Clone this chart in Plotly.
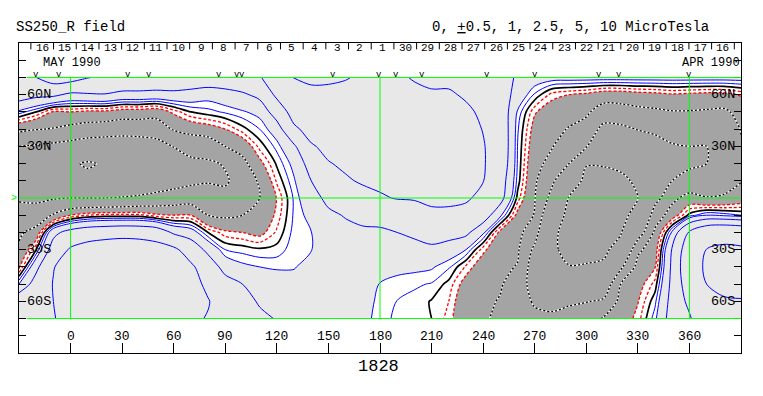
import plotly.graph_objects as go

# ---------------- data: source-surface radial field (microtesla) ----------------
LON = list(range(-30, 391, 10))          # Carrington longitude grid (deg)
LAT = list(range(-70, 71, 10))           # latitude grid (deg)

N70 = [4.5, 5.0, 6.2, 6.0, 5.1, 4.6, 4.4, 4.3, 4.2, 4.2, 4.0, 4.0, 4.1, 4.3, 4.7, 7.5, 10.2, 11.0, 11.0, 10.4, 9.0, 7.0, 5.2, 4.9, 4.8, 4.6, 4.2, 3.8, 3.2, 2.3, 1.6, 1.4, 1.4, 1.4, 1.4, 1.4, 1.4, 1.4, 1.4, 1.4, 1.4, 1.4, 1.4]
N60 = [3.5, 3.0, 2.9, 2.1, 2.3, 2.4, 2.0, 2.0, 1.9, 2.0, 1.8, 1.4, 1.7, 2.2, 3.0, 5.5, 8.0, 8.7, 8.5, 8.0, 7.6, 6.6, 5.6, 5.3, 5.1, 5.2, 4.8, 4.4, 3.6, 1.8, 0.4, -0.7, -1.0, -1.2, -1.6, -1.6, -1.4, -1.3, -1.1, -1.2, -1.3, -1.3, -0.9]
N50 = [0.8, 0.0, -1.1, -1.0, -1.2, -1.2, -1.5, -1.5, -1.7, -0.8, 0.0, 0.3, 0.6, 0.9, 1.3, 3.5, 6.0, 7.0, 7.3, 7.0, 6.8, 6.3, 5.8, 5.5, 5.4, 5.4, 5.3, 4.7, 3.9, 0.9, -0.9, -1.6, -1.9, -2.2, -3.4, -3.3, -3.0, -2.8, -2.6, -2.6, -2.7, -2.8, -2.0]
N40 = [-2.0, -2.4, -2.6, -3.0, -3.3, -3.5, -3.8, -3.8, -3.7, -2.3, -1.8, -1.5, -1.0, -0.2, 0.5, 1.6, 4.6, 5.8, 6.3, 6.3, 6.2, 6.1, 5.9, 5.6, 5.5, 5.5, 5.5, 4.95, 4.1, 0.6, -1.4, -2.0, -2.6, -3.2, -5.8, -5.6, -4.9, -4.5, -4.0, -4.0, -4.0, -4.0, -2.4]
N30 = [-5.0, -5.3, -5.6, -6.0, -6.6, -6.8, -6.8, -6.5, -6.0, -4.9, -4.0, -3.7, -2.5, -1.8, -0.3, 0.7, 2.2, 4.8, 5.5, 5.8, 5.8, 5.9, 5.9, 5.6, 5.5, 5.5, 5.5, 5.1, 4.2, 0.5, -1.7, -2.4, -3.6, -4.8, -7.8, -7.6, -6.8, -6.0, -5.2, -5.0, -5.0, -4.8, -2.7]
N20 = [-6.5, -7.2, -8.2, -9.5, -10.4, -9.6, -9.0, -8.3, -7.6, -6.8, -5.6, -5.4, -4.8, -3.0, -1.3, 0.1, 1.3, 3.3, 4.9, 5.3, 5.5, 5.7, 5.8, 5.5, 5.4, 5.4, 5.4, 5.15, 4.0, 0.45, -2.0, -3.0, -5.0, -9.8, -9.8, -9.5, -8.4, -7.2, -6.0, -5.4, -5.0, -4.6, -3.0]
N10 = [-6.5, -7.3, -8.0, -8.5, -9.0, -8.6, -8.2, -7.6, -7.0, -6.3, -5.6, -5.2, -5.3, -4.0, -2.2, -0.4, 0.9, 2.5, 3.8, 4.8, 5.2, 5.4, 5.6, 5.3, 5.3, 5.3, 5.3, 5.05, 3.5, 0.3, -2.2, -4.5, -7.5, -11.0, -10.9, -10.5, -9.6, -7.5, -5.0, -4.2, -3.9, -3.6, -2.6]
EQ = [-5.3, -5.5, -5.2, -5.0, -5.0, -5.0, -4.8, -4.5, -4.0, -3.6, -3.4, -3.8, -4.3, -3.7, -2.5, -0.95, 0.6, 1.9, 2.9, 3.6, 4.4, 4.8, 5.1, 5.2, 5.1, 5.1, 5.2, 4.6, 3.2, -0.2, -2.4, -5.8, -10.2, -11.2, -11.2, -10.8, -10.0, -6.0, -3.0, -1.8, -2.4, -2.2, -1.7]
S10 = [-4.0, -3.8, -2.3, -1.0, -0.5, -0.3, -0.3, -0.3, -0.8, -1.0, -1.0, -2.5, -2.8, -2.5, -2.0, -0.8, 0.6, 1.3, 2.2, 2.6, 3.0, 3.2, 3.6, 3.8, 4.9, 4.9, 4.5, 3.5, 1.2, -1.3, -2.6, -8.0, -10.8, -11.3, -11.3, -10.6, -9.3, -3.6, -1.6, 0.2, 1.0, 0.8, 0.5]
S20 = [-2.8, -1.8, 2.0, 3.2, 3.8, 4.0, 4.2, 4.1, 3.8, 2.2, 1.6, 0.0, -0.8, -1.0, -1.3, -0.4, 0.7, 0.98, 1.8, 2.1, 2.2, 2.2, 2.5, 2.8, 3.4, 3.3, 2.9, 1.2, -1.3, -1.9, -3.8, -9.4, -11.0, -11.2, -11.0, -10.2, -6.5, -2.1, 1.2, 5.3, 7.6, 8.2, 7.8]
S30 = [-2.2, 0.0, 3.4, 5.3, 6.0, 6.4, 6.5, 6.4, 6.0, 5.5, 3.8, 2.0, 0.5, 0.3, 0.1, 0.2, 0.8, 0.97, 1.6, 1.8, 1.8, 1.6, 1.7, 2.0, 2.1, 1.6, 1.0, -0.8, -1.8, -2.2, -5.6, -9.5, -10.8, -10.8, -10.5, -9.0, -2.9, -1.5, 2.7, 6.8, 10.1, 10.8, 10.6]
S40 = [-1.2, 2.0, 4.9, 6.0, 6.8, 7.2, 7.3, 7.2, 6.9, 6.3, 5.4, 3.7, 1.8, 1.2, 1.0, 0.9, 0.95, 1.3, 1.6, 1.6, 1.5, 1.2, 1.2, 1.2, 1.1, 0.6, -0.6, -1.6, -2.1, -2.6, -6.5, -8.8, -9.9, -9.8, -9.6, -5.5, -1.8, -1.05, 2.9, 7.3, 10.8, 11.5, 11.4]
S50 = [1.0, 3.4, 5.1, 6.4, 7.0, 7.5, 7.6, 7.5, 7.2, 6.6, 5.7, 4.6, 3.3, 2.5, 1.7, 1.5, 1.3, 1.6, 1.7, 1.5, 1.3, 0.98, 0.8, 0.6, 0.45, -0.2, -1.4, -2.0, -2.35, -3.3, -6.4, -7.2, -7.8, -7.5, -7.0, -2.5, -1.4, -0.3, 3.0, 6.6, 10.0, 11.0, 11.0]
S60 = [4.0, 4.3, 5.0, 6.5, 7.0, 7.4, 7.5, 7.4, 7.1, 6.4, 5.6, 5.1, 4.1, 3.2, 2.3, 2.0, 1.8, 1.9, 1.9, 1.5, 1.2, 0.9, 0.48, 0.3, -0.05, -0.5, -1.8, -2.2, -2.6, -3.8, -5.3, -5.6, -5.3, -5.1, -4.6, -1.9, -1.05, 0.35, 3.2, 5.6, 8.6, 9.6, 9.8]
S70 = [4.5, 4.6, 4.8, 6.3, 6.8, 7.2, 7.3, 7.2, 6.8, 6.0, 5.3, 4.9, 4.5, 3.6, 2.9, 2.4, 2.1, 2.1, 2.1, 1.6, 1.15, 0.85, 0.3, 0.15, 0.0, -0.7, -2.0, -2.35, -2.75, -3.9, -4.4, -4.6, -4.2, -3.6, -2.3, -1.6, -0.75, 0.8, 3.4, 4.7, 7.3, 8.2, 8.5]

FIELD = [S70, S60, S50, S40, S30, S20, S10, EQ, N10, N20, N30, N40, N50, N60, N70]
for _row in FIELD:
    assert len(_row) == len(LON), len(_row)

POS_LEVELS = [0.5, 1.0, 2.5, 5.0, 10.0]      # blue solid
RED_LEVELS = [-0.5, -1.0]                    # red dashed
NEG_LEVELS = [-2.5, -5.0, -10.0]             # black/white dashed
ZERO_LEVEL = 0.0                             # black solid

LON_TICKS = [0, 30, 60, 90, 120, 150, 180, 210, 240, 270, 300, 330, 360]
LAT_TICKS = [-80, -70, -60, -50, -40, -30, -20, -10, 10, 20, 30, 40, 50, 60, 70, 80]
LAT_LABELS = [60, 30, -30, -60]
LAT_TEXT = ["60N", "30N", "30S", "60S"]
GREEN_LON = [0, 180, 360]

DAY_TICKS = [-23.1, -9.9, 3.3, 16.5, 29.7, 42.9, 56.1, 69.3, 82.5, 95.7, 108.9, 122.1,
             135.3, 148.5, 161.7, 174.9, 188.1, 201.3, 214.5, 227.7, 240.9, 254.1,
             267.3, 280.5, 293.7, 306.9, 320.1, 333.3, 346.5, 359.7, 372.9, 386.1]
DAY_LABELS = ["16", "15", "14", "13", "12", "11", "10", "9", "8", "7", "6", "5", "4", "3", "2", "1",
              "30", "29", "28", "27", "26", "25", "24", "23", "22", "21", "20", "19", "18", "17", "16"]
OBS_MARKS = [-20.2, -6.8, 33.4, 45.6, 86.3, 96.8, 99.7, 152.7, 179.5, 189.4, 204.5,
             242.3, 270.3, 307.5, 319.2, 360.0]

FONT = "Liberation Mono"
DARK, WHITE, LIGHT = "#a4a4a4", "#ffffff", "#e8e8e8"
SMOOTH = 0.9

fig = go.Figure()

# shaded regions: < -1 dark, -1..1 white, > 1 light
fig.add_trace(go.Contour(
    x=LON, y=LAT, z=FIELD,
    contours=dict(start=-1, end=1, size=2, coloring="fill", showlines=False),
    colorscale=[[0, DARK], [0.5, WHITE], [1, LIGHT]],
    line=dict(width=0, smoothing=SMOOTH),
    showscale=False, hoverinfo="skip"))


def add_level(value, color, width, dash="solid"):
    fig.add_trace(go.Contour(
        x=LON, y=LAT, z=FIELD,
        contours=dict(type="constraint", operation="=", value=value),
        line=dict(color=color, width=width, dash=dash, smoothing=SMOOTH),
        showscale=False, showlegend=False, hoverinfo="skip"))


for v in POS_LEVELS:
    add_level(v, "#0000ff", 1.0)
for v in NEG_LEVELS:
    add_level(v, "white", 1.3)
    add_level(v, "black", 1.3, "2px,2px")
for v in RED_LEVELS:
    add_level(v, "#ff0000", 1.3, "3px,2px")
add_level(ZERO_LEVEL, "black", 1.7)

shapes = []
GREEN = "#00ff00"
shapes.append(dict(type="line", xref="x", yref="y", x0=-30, x1=390, y0=0, y1=0,
                   line=dict(color=GREEN, width=1)))
for la in (70, -70):
    shapes.append(dict(type="line", xref="x", yref="y", x0=-25.5, x1=390, y0=la, y1=la,
                       line=dict(color=GREEN, width=1)))
for lo in GREEN_LON:
    shapes.append(dict(type="line", xref="x", yref="y", x0=lo, x1=lo, y0=-70, y1=70,
                       line=dict(color=GREEN, width=1)))
for lo in DAY_TICKS:
    shapes.append(dict(type="line", xref="x", yref="y", x0=lo, x1=lo, y0=90, y1=86.3,
                       line=dict(color="black", width=1)))

ann = []


def text(x, y, s, size, xanchor="center", yanchor="middle", xref="x", yref="y", color="black"):
    ann.append(dict(x=x, y=y, xref=xref, yref=yref, text=s, showarrow=False,
                    xanchor=xanchor, yanchor=yanchor, borderpad=0,
                    font=dict(family=FONT, size=size, color=color)))


for i, lab in enumerate(DAY_LABELS):
    text((DAY_TICKS[i] + DAY_TICKS[i + 1]) / 2, 86.9, lab, 11)
text(-16.5, 78.4, "MAY 1990", 12, xanchor="left")
text(390, 78.4, "APR 1990", 12, xanchor="right")
for lo in OBS_MARKS:
    text(lo, 71.5, "v", 9)
for lo in LON_TICKS:
    text(lo, -80.6, str(lo), 13)
for la, s in zip(LAT_LABELS, LAT_TEXT):
    text(-26.0, la, s, 13.5, xanchor="left")
    text(387.2, la, s, 13.5, xanchor="right")
text(-0.001, 0, ">", 10, xanchor="right", xref="paper", color=GREEN)
text(-0.006, 1.052, "SS250_R field", 14, xanchor="left", xref="paper", yref="paper")
text(0.571, 1.052, "0, <u>+</u>0.5, 1, 2.5, 5, 10 MicroTesla", 14, xanchor="left",
     xref="paper", yref="paper")
text(0.4986, -0.042, "1828", 17, xref="paper", yref="paper")

# the page adds an 8 px body margin, so the figure is 8 px smaller and the
# left/top margins 8 px narrower to keep the plot frame where the reference has it
fig.update_layout(
    width=755, height=388,
    margin=dict(l=11, r=22, t=35, b=43, pad=0),
    paper_bgcolor="white", plot_bgcolor="white",
    showlegend=False,
    shapes=shapes, annotations=ann,
    xaxis=dict(range=[-30, 390], showgrid=False, zeroline=False, showline=True,
               linecolor="black", linewidth=1, mirror=True, ticks="inside",
               tickvals=LON_TICKS, ticklen=10, tickcolor="black", showticklabels=False),
    yaxis=dict(range=[-90, 90], showgrid=False, zeroline=False, showline=True,
               linecolor="black", linewidth=1, mirror="ticks", ticks="inside",
               tickvals=LAT_TICKS, ticklen=7, tickcolor="black", showticklabels=False),
)

fig.write_html("out.html", config={"displayModeBar": False})
